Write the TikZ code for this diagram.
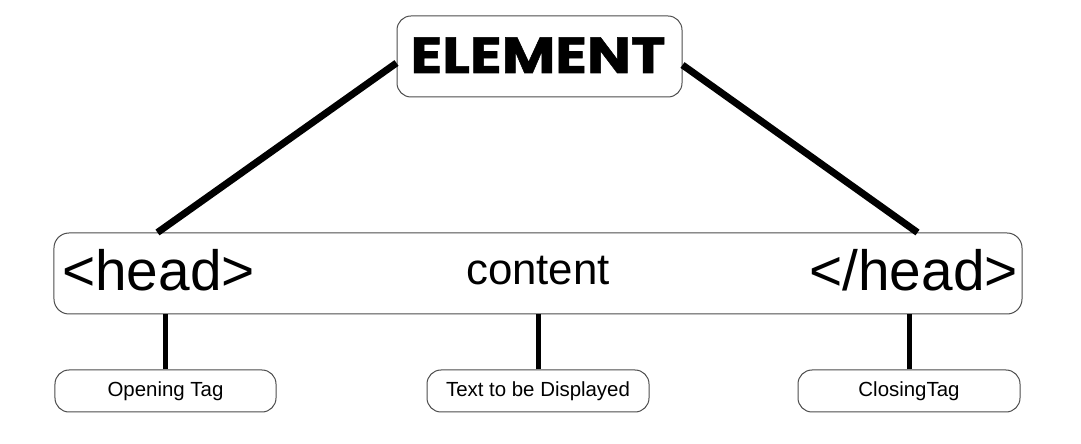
\documentclass[tikz,border=0pt]{standalone}
\usepackage{fontspec}
\setmainfont{Liberation Sans}
\newfontfamily\elementfont{Poppins}[BoldFeatures={FakeStretch=1.15, FakeBold=1}]

\begin{document}
\begin{tikzpicture}[
    x=1bp, y=-1bp,
    box/.style={draw=black!70, line width=1bp, rounded corners=14bp, inner sep=0pt},
    note/.style={box, minimum width=221bp, minimum height=42bp, font=\fontsize{20.5}{24}\selectfont},
    tagtext/.style={inner sep=0pt, font=\fontsize{57}{60}\selectfont},
    link/.style={line width=7bp},
    stem/.style={line width=5bp}
]
    \useasboundingbox (0, 0) rectangle (1081, 444);

    % ELEMENT
    \node (element) at (539.5, 56.5) [box, minimum width=285bp, minimum height=81bp] {};
    \node (element_text) at (538, 73) [anchor=base, inner sep=0pt, font=\elementfont\bfseries\fontsize{51}{54}\selectfont] {ELEMENT};

    % TAG LINE
    \node (tagline) at (538, 273.5) [box, rounded corners=15bp, minimum width=968bp, minimum height=81bp] {};
    \node (open_tag) at (62, 291) [tagtext, anchor=base west] {<head>};
    \node (content) at (538, 285) [tagtext, anchor=base, font=\fontsize{44}{48}\selectfont] {content};
    \node (close_tag) at (1018, 291) [tagtext, anchor=base east] {</head>};

    % NOTES
    \node (opening) at (165.5, 391) [note] {Opening Tag};
    \node (text) at (538, 391) [note, minimum width=222bp] {Text to be Displayed};
    \node (closing) at (909, 391) [note, minimum width=222bp] {ClosingTag};

    % Connect ELEMENT to the tag line
    \draw[link] ([yshift=-6.5bp]element.west) -- ([xshift=104bp]tagline.north west);
    \draw[link] ([yshift=-8.5bp]element.east) -- ([xshift=-105bp]tagline.north east);

    % Connect notes to the tag line
    \draw[stem] (opening.north) -- (opening.north |- tagline.south);
    \draw[stem] (text.north) -- (text.north |- tagline.south);
    \draw[stem] (closing.north) -- (closing.north |- tagline.south);
\end{tikzpicture}
\end{document}
